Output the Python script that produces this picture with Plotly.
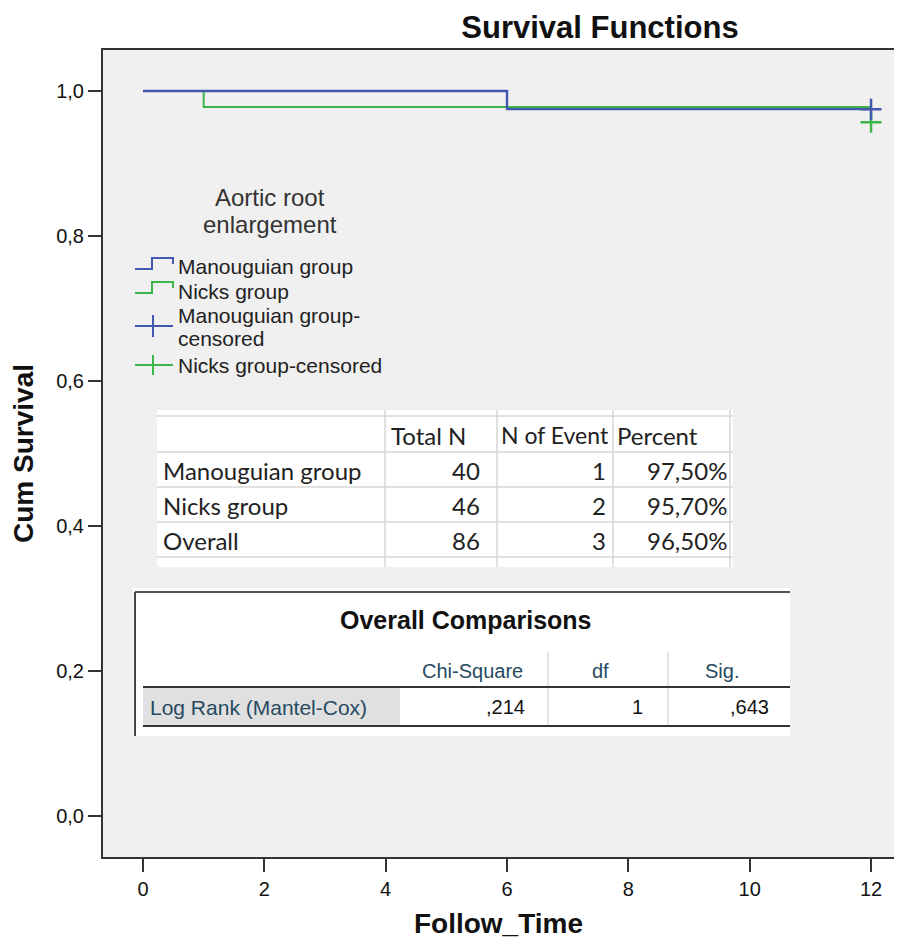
import plotly.graph_objects as go

# ---------------- data ----------------
manou_time = [0, 6, 12]
manou_surv = [1.0, 0.975, 0.975]
nicks_time = [0, 1, 12]
nicks_surv = [1.0, 0.978, 0.957]
manou_cens_time = [12]
manou_cens_surv = [0.975]
nicks_cens_time = [12]
nicks_cens_surv = [0.957]

x_ticks = [0, 2, 4, 6, 8, 10, 12]
y_ticks = [0.0, 0.2, 0.4, 0.6, 0.8, 1.0]

tbl_header = ["", "Total N", "N of Event", "Percent"]
tbl_groups = ["Manouguian group", "Nicks group", "Overall"]
tbl_total_n = ["40", "46", "86"]
tbl_events = ["1", "2", "3"]
tbl_percent = ["97,50%", "95,70%", "96,50%"]

cmp_title = "Overall Comparisons"
cmp_header = ["Chi-Square", "df", "Sig."]
cmp_row = ["Log Rank (Mantel-Cox)", ",214", "1", ",643"]

legend_title = ["Aortic root", "enlargement"]
legend_items = ["Manouguian group", "Nicks group", "Manouguian group-", "censored", "Nicks group-censored"]

BLUE = "#4257b0"
GREEN = "#3db649"
ARIAL = "Liberation Sans, Arial, sans-serif"

# ---------------- geometry (page pixels; html body has an 8px margin) ----------------
OFF = 8
FIG_W, FIG_H = 902 - 2 * OFF, 947 - 2 * OFF
L, T, R, B = 103, 50, OFF + FIG_W, 857
W, H = R - L, B - T


def px(x):
    return (x - L) / W


def py(y):
    return (B - y) / H


fig = go.Figure()

fig.add_trace(go.Scatter(x=nicks_time, y=nicks_surv, mode="lines", line=dict(color=GREEN, width=2, shape="hv"),
                         name="Nicks group", showlegend=False))
fig.add_trace(go.Scatter(x=manou_time, y=manou_surv, mode="lines", line=dict(color=BLUE, width=2.4, shape="hv"),
                         name="Manouguian group", showlegend=False))
fig.add_trace(go.Scatter(x=nicks_cens_time, y=nicks_cens_surv, mode="markers",
                         marker=dict(symbol="cross-thin", size=15, line=dict(color=GREEN, width=2.5)),
                         name="Nicks group-censored", showlegend=False))
fig.add_trace(go.Scatter(x=manou_cens_time, y=manou_cens_surv, mode="markers",
                         marker=dict(symbol="cross-thin", size=15, line=dict(color=BLUE, width=2.5)),
                         name="Manouguian group-censored", showlegend=False))

shapes = []
annos = []


def line(x0, y0, x1, y1, color, width=1):
    shapes.append(dict(type="line", xref="paper", yref="paper", x0=px(x0), y0=py(y0), x1=px(x1), y1=py(y1),
                       line=dict(color=color, width=width), layer="above"))


def rect(x0, y0, x1, y1, fill):
    shapes.append(dict(type="rect", xref="paper", yref="paper", x0=px(x0), y0=py(y0), x1=px(x1), y1=py(y1),
                       fillcolor=fill, line=dict(width=0), layer="above"))


def text(x, y, s, size, color="#222", anchor="left", family=ARIAL):
    annos.append(dict(x=px(x), y=py(y), xref="paper", yref="paper", text=s, showarrow=False,
                      xanchor=anchor, yanchor="middle", font=dict(size=size, color=color, family=family)))


# ---------------- legend (drawn) ----------------
text(270, 198, legend_title[0], 24, "#333", "center")
text(270, 224, legend_title[1], 24, "#333", "center")


def step_icon(y, color):
    pts = [(135, y), (152, y), (152, y - 11), (173, y - 11), (173, y - 5)]
    path = "M " + " L ".join(f"{px(a)},{py(b)}" for a, b in pts)
    shapes.append(dict(type="path", xref="paper", yref="paper", path=path,
                       line=dict(color=color, width=2), layer="above"))


step_icon(269, BLUE)
step_icon(293, GREEN)
line(135, 326, 173, 326, BLUE, 2)
line(153, 315, 153, 337, BLUE, 2)
line(135, 365, 173, 365, GREEN, 2)
line(153, 355, 153, 375, GREEN, 2)

LF = 21
text(176, 266, legend_items[0], LF, "#222")
text(176, 291, legend_items[1], LF, "#222")
text(176, 315, legend_items[2], LF, "#222")
text(176, 338, legend_items[3], LF, "#222")
text(176, 365, legend_items[4], LF, "#222")

# ---------------- table 1 ----------------
rect(157, 410, 733, 567, "white")
GRID = "#d6d6d6"
for yy in [416, 452, 487, 522, 557]:
    line(157, yy, 733, yy, GRID, 1.5)
for xx in [385, 497, 613, 730]:
    line(xx, 410, xx, 567, GRID, 1.5)
TF = "Lato, Carlito, Calibri, sans-serif"
TS = 24
text(389, 435, tbl_header[1], TS, "#222", "left", TF)
text(499, 435, tbl_header[2], 23, "#222", "left", TF)
text(615, 435, tbl_header[3], TS, "#222", "left", TF)
row_y = [470, 505, 540]
for i in range(3):
    text(161, row_y[i], tbl_groups[i], TS, "#222", "left", TF)
    text(482, row_y[i], tbl_total_n[i], TS, "#222", "right", TF)
    text(608, row_y[i], tbl_events[i], TS, "#222", "right", TF)
    text(729, row_y[i], tbl_percent[i], TS, "#222", "right", TF)

# ---------------- table 2 ----------------
rect(133, 588, 790, 736, "white")
line(135, 592, 135, 736, "#444", 2)
line(135, 592, 790, 592, "#555", 2)
text(465, 620, "<b>" + cmp_title + "</b>", 25, "#111", "center")
line(548, 652, 548, 726, "#cccccc", 1)
line(668, 652, 668, 726, "#cccccc", 1)
HC = "#264a60"
CS = 20
text(472, 671, cmp_header[0], CS, HC, "center")
text(600, 671, cmp_header[1], CS, HC, "center")
text(722, 671, cmp_header[2], CS, HC, "center")
rect(143, 688, 400, 725, "#e0e0e0")
line(143, 687, 790, 687, "#333", 2)
line(143, 726, 790, 726, "#333", 2)
text(148, 707, cmp_row[0], 21, HC, "left")
text(527, 707, cmp_row[1], CS, "#111", "right")
text(645, 707, cmp_row[2], CS, "#111", "right")
text(771, 707, cmp_row[3], CS, "#111", "right")

fig.update_layout(
    width=FIG_W, height=FIG_H,
    margin=dict(l=L - OFF, r=0, t=T - OFF, b=OFF + FIG_H - B),
    paper_bgcolor="white",
    plot_bgcolor="#f0f0f0",
    separators=",.",
    showlegend=False,
    shapes=shapes,
    annotations=annos,
    title=dict(text="<b>Survival Functions</b>", x=(600 - OFF) / FIG_W, xanchor="center",
               y=1 - (27 - OFF) / FIG_H, yanchor="middle",
               font=dict(size=31, color="#111", family=ARIAL)),
    xaxis=dict(range=[(L - 143) / 60.67, (R - 143) / 60.67], tickvals=x_ticks, showgrid=False, zeroline=False,
               showline=True, linecolor="#333", linewidth=2, mirror=True,
               ticks="outside", ticklen=13, tickwidth=2, tickcolor="#333",
               tickfont=dict(size=20, color="#111", family=ARIAL),
               title=dict(text="<b>Follow_Time</b>", standoff=18,
                          font=dict(size=28, color="#111", family=ARIAL))),
    yaxis=dict(range=[-0.0566, 1.0566], tickvals=y_ticks, tickformat=".1f", showgrid=False, zeroline=False,
               showline=True, linecolor="#333", linewidth=2,
               ticks="outside", ticklen=13, tickwidth=2, tickcolor="#333",
               tickfont=dict(size=20, color="#111", family=ARIAL),
               title=dict(text="<b>Cum Survival</b>", standoff=20,
                          font=dict(size=28, color="#111", family=ARIAL))),
)

fig.write_html("out.html")
